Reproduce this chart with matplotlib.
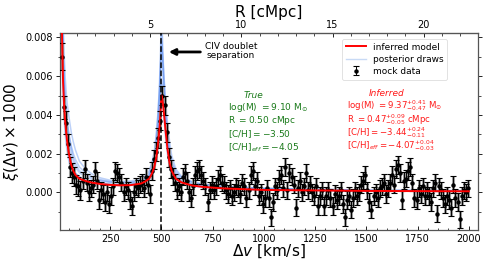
import numpy as np
import matplotlib
matplotlib.use("Agg")
import matplotlib.pyplot as plt
from matplotlib.ticker import MultipleLocator

# ---------------- data ----------------
dv_data = [15 + 10 * i for i in range(199)]
xi_data = [
    0.0070, 0.0044, 0.0036, 0.0025, 0.0013, 0.0010, 0.0008, 0.0004, 0.0003, 0.0001,
    0.0006, 0.0012, 0.0005, 0.0000, 0.0002, 0.0004, 0.0011, 0.0006, -0.0004, 0.0001,
    -0.0001, -0.0005, 0.0000, -0.0006, -0.0002, 0.0003, 0.0011, 0.0010, 0.0008, 0.0005,
    0.0000, 0.0003, 0.0001, -0.0004, -0.0007, 0.0000, 0.0003, 0.0002, 0.0004, 0.0005,
    0.0002, 0.0008, 0.0004, -0.0001, 0.0011, 0.0017, 0.0021, 0.0028, 0.0037, 0.0050,
    0.0045, 0.0031, 0.0018, 0.0012, 0.0008, 0.0005, 0.0001, 0.0003, 0.0000, 0.0008,
    0.0010, 0.0006, 0.0000, -0.0003, 0.0003, 0.0009, 0.0011, 0.0012, 0.0009, 0.0006,
    0.0003, -0.0005, 0.0001, 0.0004, 0.0001, 0.0003, 0.0007, 0.0009, 0.0005, 0.0004,
    0.0001, -0.0001, 0.0002, -0.0002, 0.0000, 0.0003, 0.0002, -0.0001, 0.0005, 0.0003,
    -0.0003, 0.0001, 0.0009, 0.0011, 0.0003, 0.0006, -0.0002, 0.0000, -0.0006, -0.0003,
    0.0002, -0.0003, -0.0013, -0.0005, 0.0003, 0.0001, 0.0007, 0.0009, 0.0002, 0.0013,
    0.0001, 0.0010, 0.0008, 0.0004, -0.0008, 0.0002, 0.0006, 0.0000, 0.0003, 0.0010,
    0.0001, 0.0004, 0.0000, -0.0002, 0.0003, -0.0007, -0.0002, 0.0001, -0.0007, -0.0002,
    0.0001, -0.0003, -0.0007, -0.0001, -0.0004, -0.0002, 0.0001, -0.0006, -0.0013, -0.0004,
    -0.0002, -0.0009, -0.0003, 0.0001, -0.0002, 0.0000, 0.0004, 0.0006, 0.0009, 0.0001,
    -0.0005, -0.0009, -0.0002, 0.0000, -0.0003, 0.0002, 0.0003, 0.0005, -0.0001, 0.0002,
    0.0005, 0.0009, 0.0004, 0.0012, 0.0014, 0.0010, -0.0004, 0.0006, 0.0007, 0.0011,
    0.0013, 0.0005, -0.0003, -0.0004, 0.0002, -0.0001, 0.0003, -0.0002, 0.0001, -0.0002,
    -0.0005, 0.0002, 0.0005, -0.0011, 0.0003, 0.0001, -0.0003, -0.0006, -0.0002, -0.0004,
    -0.0008, 0.0004, -0.0003, -0.0005, -0.0014, -0.0002, 0.0001, 0.0000, 0.0002,
]
err_data = [
    0.0007, 0.0006, 0.0006, 0.0005, 0.0005, 0.0005, 0.0005, 0.0005, 0.0005, 0.0005,
    0.00045, 0.00045, 0.00045, 0.00045, 0.00045, 0.00045, 0.00045, 0.00045, 0.00045, 0.00045,
    0.00045, 0.00045, 0.00045, 0.00045, 0.00045, 0.00045, 0.00045, 0.00045, 0.00045, 0.00045,
    0.00045, 0.00045, 0.00045, 0.00045, 0.00045, 0.00045, 0.00045, 0.00045, 0.00045, 0.00045,
    0.00045, 0.00045, 0.00045, 0.00045, 0.00045, 0.0005, 0.0005, 0.0005, 0.0005, 0.0005,
    0.0005, 0.0005, 0.0005, 0.00045, 0.00045, 0.00045, 0.00045, 0.00045, 0.00045, 0.00045,
    0.00045, 0.00045, 0.00045, 0.00045, 0.00045, 0.00045, 0.00045, 0.00045, 0.00045, 0.00045,
    0.00045, 0.00045, 0.00045, 0.00045, 0.00045, 0.00045, 0.00045, 0.00045, 0.00045, 0.00045,
    0.00045, 0.00045, 0.00045, 0.00045, 0.00045, 0.00045, 0.00045, 0.00045, 0.00045, 0.00045,
    0.00045, 0.00045, 0.00045, 0.00045, 0.00045, 0.00045, 0.00045, 0.00045, 0.00045, 0.00045,
    0.00045, 0.00045, 0.00045, 0.00045, 0.00045, 0.00045, 0.00045, 0.00045, 0.00045, 0.00045,
    0.00045, 0.00045, 0.00045, 0.00045, 0.00045, 0.00045, 0.00045, 0.00045, 0.00045, 0.00045,
    0.00045, 0.00045, 0.00045, 0.00045, 0.00045, 0.00045, 0.00045, 0.00045, 0.00045, 0.00045,
    0.00045, 0.00045, 0.00045, 0.00045, 0.00045, 0.00045, 0.00045, 0.00045, 0.00045, 0.00045,
    0.00045, 0.00045, 0.00045, 0.00045, 0.00045, 0.00045, 0.00045, 0.00045, 0.00045, 0.00045,
    0.00045, 0.00045, 0.00045, 0.00045, 0.00045, 0.00045, 0.00045, 0.00045, 0.00045, 0.00045,
    0.00045, 0.00045, 0.00045, 0.00045, 0.00045, 0.00045, 0.00045, 0.00045, 0.00045, 0.00045,
    0.00045, 0.00045, 0.00045, 0.00045, 0.00045, 0.00045, 0.00045, 0.00045, 0.00045, 0.00045,
    0.00045, 0.00045, 0.00045, 0.00045, 0.00045, 0.00045, 0.00045, 0.00045, 0.00045, 0.00045,
    0.00045, 0.00045, 0.00045, 0.00045, 0.00045, 0.00045, 0.00045, 0.00045, 0.00045,
]

dv_model = [10, 15, 20, 25, 30, 35, 40, 50, 60, 70, 80, 100, 130, 160, 200, 250, 300, 350,
            400, 420, 440, 455, 465, 475, 483, 490, 495, 500, 505, 510, 515, 520, 530,
            540, 550, 570, 600, 650, 700, 800, 1000, 1500, 2000]
xi_model = [0.0120, 0.0080, 0.0057, 0.0045, 0.0037, 0.0031, 0.0026, 0.0019, 0.0014, 0.0011,
            0.0009, 0.0007, 0.00058, 0.0005, 0.00043, 0.00038, 0.00036, 0.00037, 0.00045,
            0.00055, 0.0007, 0.0010, 0.0013, 0.0018, 0.0025, 0.0032, 0.0040, 0.0050, 0.0048,
            0.0043, 0.0038, 0.0032, 0.0022, 0.0015, 0.0011, 0.0007, 0.0005, 0.00035, 0.00028,
            0.0002, 0.00012, 0.00007, 0.00005]

draw_1 = [0.0140, 0.0095, 0.0070, 0.0056, 0.0047, 0.0040, 0.0034, 0.0026, 0.0020, 0.0016,
          0.0013, 0.0010, 0.0008, 0.00068, 0.00058, 0.0005, 0.00047, 0.00048, 0.00057, 0.0007,
          0.0009, 0.0013, 0.0017, 0.0024, 0.0033, 0.0044, 0.0057, 0.0075, 0.0066, 0.0056,
          0.0048, 0.0040, 0.0028, 0.0020, 0.0015, 0.0010, 0.0007, 0.0005, 0.0004, 0.0003,
          0.0002, 0.0001, 0.00008]
draw_2 = [0.0110, 0.0072, 0.0050, 0.0038, 0.0030, 0.0025, 0.0021, 0.0015, 0.0011, 0.0009,
          0.00075, 0.0006, 0.0005, 0.00045, 0.0004, 0.00036, 0.00034, 0.00035, 0.0004, 0.00048,
          0.0006, 0.00085, 0.0011, 0.0016, 0.0023, 0.0031, 0.0041, 0.0056, 0.0050, 0.0042,
          0.0035, 0.0028, 0.0019, 0.0013, 0.0009, 0.0006, 0.00045, 0.00032, 0.00025, 0.00018,
          0.0001, 0.00006, 0.00004]
draw_3 = [0.0150, 0.0100, 0.0075, 0.0060, 0.0050, 0.0043, 0.0037, 0.0029, 0.0023, 0.0018,
          0.0015, 0.0011, 0.0009, 0.00075, 0.00062, 0.00054, 0.0005, 0.00052, 0.00062, 0.00078,
          0.0010, 0.0015, 0.0020, 0.0029, 0.0040, 0.0055, 0.0070, 0.0095, 0.0080, 0.0065,
          0.0053, 0.0044, 0.0031, 0.0022, 0.0016, 0.0011, 0.00075, 0.00052, 0.00042, 0.0003,
          0.0002, 0.00011, 0.00008]
draw_4 = [0.0130, 0.0090, 0.0068, 0.0055, 0.0047, 0.0041, 0.0036, 0.0029, 0.0024, 0.0020,
          0.0017, 0.0013, 0.0010, 0.00082, 0.00066, 0.00055, 0.0005, 0.0005, 0.00058, 0.0007,
          0.00088, 0.0012, 0.0015, 0.0021, 0.0029, 0.0037, 0.0046, 0.0058, 0.0055, 0.0049,
          0.0043, 0.0037, 0.0027, 0.0019, 0.0014, 0.0009, 0.0006, 0.00042, 0.00033, 0.00024,
          0.00015, 0.00008, 0.00006]
draw_5 = [0.0125, 0.0083, 0.0060, 0.0047, 0.0039, 0.0033, 0.0028, 0.0021, 0.0016, 0.0012,
          0.0010, 0.0008, 0.00064, 0.00055, 0.00047, 0.00041, 0.00039, 0.0004, 0.00048, 0.0006,
          0.00076, 0.0011, 0.0014, 0.0020, 0.0027, 0.0035, 0.0044, 0.0054, 0.0052, 0.0046,
          0.0040, 0.0034, 0.0024, 0.0017, 0.0012, 0.0008, 0.00055, 0.00038, 0.0003, 0.00021,
          0.00013, 0.00007, 0.00005]
draw_6 = [0.0160, 0.0105, 0.0072, 0.0054, 0.0043, 0.0035, 0.0029, 0.0021, 0.0016, 0.0012,
          0.0010, 0.00075, 0.0006, 0.00052, 0.00045, 0.0004, 0.00038, 0.0004, 0.0005, 0.00062,
          0.0008, 0.0012, 0.0016, 0.0024, 0.0036, 0.0050, 0.0065, 0.0085, 0.0072, 0.0058,
          0.0046, 0.0037, 0.0025, 0.0017, 0.0012, 0.0008, 0.00055, 0.00038, 0.0003, 0.00022,
          0.00013, 0.00007, 0.00005]
draw_7 = [0.0170, 0.0120, 0.0090, 0.0072, 0.0060, 0.0052, 0.0046, 0.0038, 0.0031, 0.0026,
          0.0022, 0.0016, 0.0012, 0.00095, 0.00075, 0.00062, 0.00056, 0.00058, 0.00068, 0.00085,
          0.0011, 0.0016, 0.0021, 0.0030, 0.0041, 0.0052, 0.0063, 0.0078, 0.0072, 0.0064,
          0.0056, 0.0048, 0.0035, 0.0026, 0.0019, 0.0012, 0.0008, 0.00055, 0.00043, 0.0003,
          0.0002, 0.00011, 0.00008]
draws = [draw_1, draw_2, draw_3, draw_4, draw_5, draw_6, draw_7]

KMS_PER_CMPC = 89.0
DOUBLET_SEP = 500

true_lines = [r"log(M) $= 9.10$ M$_{\odot}$", r"R $= 0.50$ cMpc",
              r"[C/H]$= -3.50$", r"[C/H]$_{eff}$$=-4.05$"]
inf_lines = [r"log(M) $= 9.37^{+0.41}_{-0.47}$ M$_{\odot}$",
             r"R $= 0.47^{+0.09}_{-0.05}$ cMpc",
             r"[C/H]$= -3.44^{+0.24}_{-0.11}$",
             r"[C/H]$_{eff}$$=-4.07^{+0.04}_{-0.03}$"]

# ---------------- figure ----------------
W, H = 498, 262
fig = plt.figure(figsize=(W / 100, H / 100), dpi=100)
ax = fig.add_axes([60 / W, 1 - 230 / H, (478 - 60) / W, (230 - 33) / H])

for d in draws:
    ax.plot(dv_model, d, color="#5b8def", alpha=0.4, lw=1.1, zorder=1)
h_draw, = ax.plot([], [], color="#c8daf5", lw=1.0)

ax.errorbar(dv_data, xi_data, yerr=err_data, fmt="none", ecolor="#909090",
            elinewidth=2.2, capsize=0, zorder=2, alpha=0.9)
h_data = ax.errorbar(dv_data, xi_data, yerr=err_data, fmt="o", color="k", ms=2.2,
                     ecolor="k", elinewidth=0.7, capsize=2.0, capthick=0.8, zorder=3)
h_model, = ax.plot(dv_model, xi_model, color="red", lw=1.4, zorder=4)

ax.axvline(DOUBLET_SEP, color="k", ls="--", lw=1.1, zorder=5)

ax.set_xlim(5, 2045)
ax.set_ylim(-0.00195, 0.00823)
ax.set_yticks([0.0, 0.002, 0.004, 0.006, 0.008])
ax.yaxis.set_minor_locator(MultipleLocator(0.001))
ax.set_xticks([250, 500, 750, 1000, 1250, 1500, 1750, 2000])
ax.xaxis.set_minor_locator(MultipleLocator(50))
ax.tick_params(axis="both", which="major", labelsize=7, length=3, width=0.6,
               colors="k")
ax.tick_params(axis="both", which="minor", length=1.8, width=0.5)
ax.tick_params(axis="x", which="both", direction="in", pad=3)
ax.tick_params(axis="y", which="both", right=True, pad=2)
for s in ax.spines.values():
    s.set_color("#555555")
    s.set_linewidth(0.9)

ax.set_xlabel(r"$\Delta v$ [km/s]", fontsize=11, labelpad=-1)
ax.set_ylabel(r"$\xi(\Delta v) \times 1000$", fontsize=11, labelpad=3)

sec = ax.secondary_xaxis("top", functions=(lambda v: v / KMS_PER_CMPC,
                                           lambda r: r * KMS_PER_CMPC))
sec.set_xticks([5, 10, 15, 20])
sec.xaxis.set_minor_locator(MultipleLocator(1))
sec.tick_params(which="major", labelsize=7, length=3, width=0.6, pad=2,
                direction="in")
sec.tick_params(which="minor", length=1.8, width=0.5, direction="in")
sec.set_xlabel("R [cMpc]", fontsize=11, labelpad=2)
sec.spines["top"].set_color("#555555")

ax.annotate("", xy=(536, 0.00725), xytext=(690, 0.00725),
            arrowprops=dict(arrowstyle="-|>", color="k", lw=2.0,
                            mutation_scale=9, shrinkA=0, shrinkB=0), zorder=6)
fig.text(231 / W, 1 - 51 / H, "CIV doublet\nseparation", fontsize=6.5,
         ha="center", va="center", linespacing=1.1)

leg = ax.legend([h_model, h_draw, h_data],
                ["inferred model", "posterior draws", "mock data"],
                loc="upper right", bbox_to_anchor=(447 / W, 1 - 39 / H),
                bbox_transform=fig.transFigure, fontsize=6.5, frameon=True,
                borderaxespad=0, handlelength=2.2, labelspacing=0.35,
                borderpad=0.4, handletextpad=0.8)
leg.get_frame().set_linewidth(0.5)
leg.get_frame().set_edgecolor("#cccccc")

green = "#1a7a1a"
red = "#ff1a1a"
fig.text(253 / W, 1 - 95 / H, "True", fontsize=6.5, style="italic",
         color=green, ha="center", va="center")
for i, t in enumerate(true_lines):
    fig.text(228 / W, 1 - (107.5 + 13.3 * i) / H, t, fontsize=6.5, color=green,
             ha="left", va="center")
fig.text(387 / W, 1 - 94 / H, "Inferred", fontsize=6.5, style="italic",
         color=red, ha="center", va="center")
for i, t in enumerate(inf_lines):
    fig.text(347 / W, 1 - (106 + 13.3 * i) / H, t, fontsize=6.2, color=red,
             ha="left", va="center")

fig.savefig("out.png", dpi=100)
